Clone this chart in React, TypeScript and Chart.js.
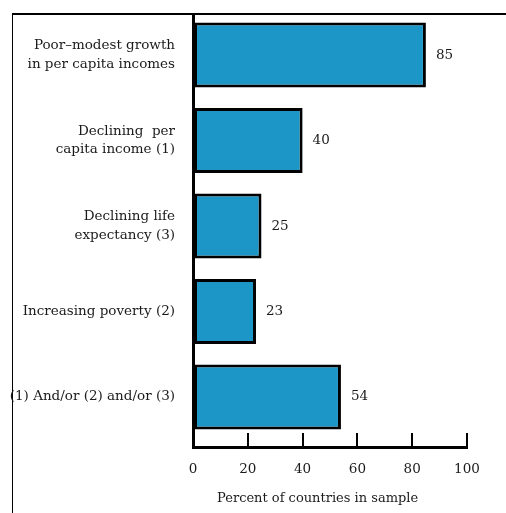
import React, { useEffect, useRef } from "react";
import { Chart, registerables } from "chart.js";

Chart.register(...registerables);

const categories: string[][] = [
  ["Poor–modest growth", "in per capita incomes"],
  ["Declining  per", "capita income (1)"],
  ["Declining life", "expectancy (3)"],
  ["Increasing poverty (2)"],
  ["(1) And/or (2) and/or (3)"],
];
const values: number[] = [85, 40, 25, 23, 54];
const xTicks: number[] = [0, 20, 40, 60, 80, 100];
const xTitle = "Percent of countries in sample";

const SERIF = "'DejaVu Serif', 'Liberation Serif', serif";
const TEXT = "#1a1a1a";

const valueLabels = {
  id: "valueLabels",
  afterDatasetsDraw(chart: any) {
    const ctx = chart.ctx;
    const meta = chart.getDatasetMeta(0);
    ctx.save();
    ctx.font = `13.5px ${SERIF}`;
    ctx.fillStyle = TEXT;
    ctx.textAlign = "left";
    ctx.textBaseline = "middle";
    meta.data.forEach((bar: any, i: number) => {
      ctx.fillText(String(values[i]), bar.x + 10, bar.y);
    });
    ctx.restore();
  },
};

export default function App() {
  const ref = useRef<HTMLCanvasElement | null>(null);
  useEffect(() => {
    if (!ref.current) return;
    const chart = new Chart(ref.current, {
      type: "bar",
      data: {
        datasets: [
          {
            data: values.map((v, i) => ({ x: v, y: i })),
            backgroundColor: "#1b96c6",
            borderColor: "#000",
            borderWidth: 3,
            borderSkipped: false,
            categoryPercentage: 1,
            barPercentage: 0.76,
          },
        ],
      },
      options: {
        indexAxis: "y",
        animation: false,
        responsive: false,
        devicePixelRatio: 1,
        layout: { padding: { left: 0, right: 39, top: 14, bottom: 0 } },
        plugins: { legend: { display: false }, tooltip: { enabled: false } },
        scales: {
          x: {
            type: "linear",
            position: "bottom",
            min: 0,
            max: 100,
            offset: false,
            afterBuildTicks: (s: any) => {
              s.ticks = xTicks.map((v) => ({ value: v }));
            },
            afterFit: (s: any) => {
              s.height = 66;
              s.paddingLeft = 0;
              s.paddingRight = 0;
            },
            border: { display: true, color: "#000", width: 3 },
            grid: {
              display: true,
              drawOnChartArea: false,
              drawTicks: true,
              tickLength: -14,
              color: "#000",
              lineWidth: 2,
            },
            ticks: {
              padding: 28,
              color: TEXT,
              font: { family: SERIF, size: 13.5 },
              maxRotation: 0,
            },
            title: {
              display: true,
              text: xTitle + "      ",
              color: TEXT,
              font: { family: SERIF, size: 13 },
              padding: { top: 0, bottom: 7 },
            },
          },
          y: {
            type: "linear",
            reverse: true,
            offset: false,
            min: -0.48,
            max: 4.585,
            afterBuildTicks: (s: any) => {
              s.ticks = categories.map((_, i) => ({ value: i }));
            },
            afterFit: (s: any) => {
              s.width = 193;
              s.paddingTop = 0;
              s.paddingBottom = 0;
            },
            border: { display: true, color: "#000", width: 3 },
            grid: { display: false, drawTicks: false },
            ticks: {
              padding: 18,
              color: TEXT,
              font: { family: SERIF, size: 13.5, lineHeight: 1.4 },
              callback: (v: any) => categories[Number(v)] ?? "",
            },
          },
        },
      },
      plugins: [valueLabels],
    } as any);
    return () => chart.destroy();
  }, []);

  return (
    <div style={{ position: "fixed", left: 0, top: 0, width: 506, height: 513, background: "#fff" }}>
      <div
        style={{
          position: "absolute",
          left: 12,
          top: 13,
          right: 0,
          bottom: 0,
          borderTop: "2px solid #000",
          borderLeft: "1.5px solid #000",
        }}
      />
      <canvas
        ref={ref}
        width={506}
        height={513}
        style={{ position: "absolute", left: 0, top: 0, width: 506, height: 513 }}
      />
    </div>
  );
}
